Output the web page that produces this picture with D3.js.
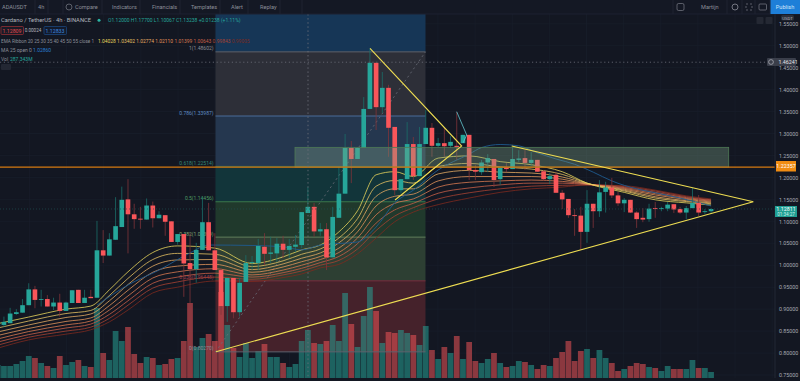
<!DOCTYPE html>
<html>
<head>
<meta charset="utf-8">
<script src="https://cdn.jsdelivr.net/npm/d3@7"></script>
<style>
  html, body { margin: 0; padding: 0; background: #131722; }
  svg { display: block; }
  text { font-family: Roboto, "Liberation Sans", sans-serif; }
</style>
</head>
<body>
<script>
let width = 800,
    height = 381;

// candles, one entry per 4h bar (first one is cut by the left edge)
let opens = [.862,.864,.868,.889,.892,.909,.945,.921,.923,.906,.915,.896,.914,.944,.914,.928,.926,1.034,1.022,1.058,1.087,1.150,1.116,1.106,1.104,1.136,1.107,1.114,1.100,1.053,1.071,1.005,.991,1.035,1.098,1.034,.989,.907,.971,.893,.962,1.005,1.005,1.042,1.026,1.027,1.049,1.035,1.042,1.046,1.119,1.133,1.077,1.082,1.018,1.108,1.163,1.267,1.242,1.267,1.356,1.461,1.360,1.404,1.315,1.171,1.196,1.276,1.203,1.276,1.313,1.272,1.278,1.272,1.272,1.278,1.297,1.217,1.212,1.234,1.242,1.196,1.224,1.219,1.240,1.244,1.233,1.240,1.214,1.196,1.206,1.165,1.151,1.114,1.113,1.076,1.140,1.123,1.167,1.177,1.159,1.141,1.149,1.120,1.108,1.105,1.130,1.128,1.129,1.139,1.128,1.120,1.130,1.142,1.121,1.123];
let highs = [.880,.883,.903,.900,.923,.959,.953,.944,.932,.926,.935,.917,.943,.944,.944,.944,1.101,1.080,1.073,1.155,1.179,1.196,1.140,1.133,1.152,1.145,1.123,1.114,1.100,1.071,1.071,1.073,1.051,1.156,1.142,1.073,.994,.971,.971,.971,1.023,1.021,1.060,1.073,1.065,1.062,1.067,1.060,1.069,1.121,1.178,1.142,1.096,1.096,1.133,1.224,1.299,1.283,1.269,1.383,1.493,1.461,1.440,1.411,1.315,1.196,1.326,1.292,1.315,1.354,1.324,1.290,1.313,1.294,1.349,1.297,1.297,1.228,1.240,1.253,1.242,1.224,1.233,1.269,1.262,1.262,1.258,1.240,1.217,1.210,1.212,1.171,1.151,1.128,1.133,1.171,1.140,1.194,1.190,1.199,1.167,1.153,1.149,1.123,1.130,1.140,1.144,1.133,1.144,1.139,1.133,1.135,1.176,1.160,1.128,1.130];
let lows = [.857,.859,.868,.887,.892,.909,.902,.906,.906,.898,.883,.896,.914,.914,.914,.925,.926,1.005,1.022,1.058,1.087,1.027,1.083,1.083,1.104,1.086,1.107,1.067,1.053,1.047,.928,.914,.960,1.035,1.034,.989,.887,.871,.879,.883,.962,.989,.989,1.000,1.005,1.007,1.016,1.016,1.030,1.039,1.119,1.065,1.067,.989,1.018,1.108,1.163,1.187,1.242,1.267,1.356,1.308,1.347,1.247,1.160,1.165,1.196,1.194,1.203,1.276,1.247,1.269,1.247,1.267,1.240,1.278,1.194,1.194,1.206,1.212,1.178,1.183,1.212,1.219,1.235,1.217,1.226,1.213,1.192,1.185,1.165,1.128,1.108,1.067,1.035,1.051,1.085,1.110,1.120,1.153,1.135,1.121,1.119,1.085,1.098,1.099,1.108,1.123,1.123,1.119,1.117,1.105,1.130,1.112,1.117,1.119];
let closes = [.871,.871,.890,.893,.909,.945,.921,.923,.906,.915,.896,.915,.943,.914,.926,.925,1.034,1.022,1.059,1.089,1.149,1.116,1.105,1.104,1.136,1.107,1.115,1.099,1.053,1.071,1.004,.991,1.035,1.098,1.034,.989,.907,.971,.893,.960,1.005,1.007,1.044,1.026,1.029,1.049,1.035,1.044,1.047,1.121,1.133,1.077,1.082,1.018,1.110,1.163,1.267,1.242,1.267,1.356,1.461,1.360,1.404,1.313,1.171,1.196,1.276,1.203,1.276,1.313,1.272,1.278,1.271,1.281,1.269,1.297,1.217,1.213,1.234,1.244,1.194,1.222,1.219,1.242,1.243,1.233,1.240,1.213,1.196,1.203,1.165,1.150,1.114,1.112,1.076,1.140,1.123,1.166,1.177,1.159,1.141,1.149,1.120,1.105,1.104,1.129,1.128,1.130,1.138,1.127,1.120,1.130,1.142,1.120,1.123,1.128];
let volumes = [650,600,600,700,850,1100,1000,750,600,500,1100,650,800,900,600,550,3500,1250,900,2350,1850,2550,1200,750,1050,1000,650,700,950,1000,1850,3750,1550,2000,2200,1850,4300,2650,1500,1050,1750,1000,1350,1700,1050,1050,750,550,700,1850,2400,1750,1700,1850,2650,1850,4250,2700,1550,3100,4550,3350,1750,2300,2250,2400,2250,2150,1650,2600,1400,950,1550,1250,2100,950,1800,850,750,950,1250,750,550,600,850,800,650,450,650,600,1000,1300,1850,850,1350,1450,1000,1400,1000,750,350,450,600,750,700,550,500,350,600,450,450,450,900,500,500,300];

let ribbonBars = [-1,4,10,14,17,20,24,28,34,40,45,48,51,54,57,60,63,66,70,75,80,85,90,94,100,105,110,114];
let ema20 = [.867,.882,.900,.907,.944,.985,1.029,1.044,1.039,1.004,1.019,1.035,1.046,1.076,1.124,1.206,1.213,1.202,1.244,1.249,1.236,1.229,1.213,1.187,1.166,1.149,1.142,1.137];
let ema25 = [.857,.873,.890,.897,.931,.970,1.013,1.027,1.025,.997,1.010,1.025,1.037,1.062,1.106,1.180,1.193,1.187,1.225,1.232,1.224,1.219,1.207,1.187,1.169,1.153,1.145,1.140];
let ema30 = [.848,.864,.881,.889,.919,.956,.998,1.012,1.013,.990,1.003,1.016,1.028,1.051,1.090,1.157,1.174,1.174,1.208,1.216,1.212,1.210,1.201,1.186,1.171,1.156,1.147,1.142];
let ema35 = [.840,.856,.872,.880,.908,.943,.984,.998,1.002,.984,.996,1.008,1.020,1.039,1.076,1.135,1.157,1.162,1.192,1.202,1.202,1.202,1.196,1.185,1.173,1.160,1.150,1.144];
let ema40 = [.832,.849,.864,.873,.898,.930,.971,.985,.992,.978,.989,1.000,1.013,1.029,1.062,1.115,1.141,1.151,1.178,1.189,1.192,1.194,1.191,1.185,1.175,1.163,1.152,1.146];
let ema45 = [.825,.842,.857,.866,.888,.919,.959,.973,.982,.973,.983,.993,1.006,1.020,1.049,1.096,1.126,1.141,1.164,1.176,1.183,1.187,1.187,1.184,1.177,1.166,1.154,1.148];
let ema50 = [.818,.836,.850,.859,.879,.909,.948,.962,.973,.968,.978,.987,1.000,1.011,1.037,1.079,1.112,1.131,1.151,1.165,1.174,1.180,1.182,1.183,1.179,1.169,1.156,1.149];
let ema55 = [.811,.830,.843,.853,.871,.898,.937,.950,.964,.963,.972,.980,.994,1.002,1.026,1.062,1.099,1.121,1.138,1.153,1.166,1.174,1.178,1.183,1.181,1.171,1.158,1.151];
let ribbon = [ema20, ema25, ema30, ema35, ema40, ema45, ema50, ema55];
let ribbonColors = ["#e8d65c", "#e6c262", "#e5ab62", "#e2945a", "#d97a50", "#c96048", "#a84232", "#7e2a1e"];
let emaLast = ["1.04028", "1.03402", "1.02774", "1.02110", "1.01399", "1.00643", "0.99843", "0.99005"];

let maBars = [15,20,25,30,33,40,45,48,51,57,60,63,66,70,75,77,80,83,86,89,92,95,98,102,105,109,114];
let maValues = [.909,.955,.989,1.028,1.046,1.045,1.042,1.035,1.046,1.053,1.087,1.142,1.171,1.217,1.253,1.268,1.275,1.272,1.256,1.242,1.230,1.212,1.192,1.174,1.165,1.153,1.135];

// fib retracement levels, top to bottom
let fibLevels = [2, 1.486, 1.33987, 1.22514, 1.14456, 1.06399, .96448, .8027];
let fibLabels = ["", "1(1.48602)", "0.786(1.33987)", "0.618(1.22514)", "0.5(1.14456)", "0.382(1.06399)", "0.236(0.96448)", "0(0.80270)"];
let fibFills = ["#163656", "#2d2f38", "#25374f", "#12353a", "#20392c", "#2d3f33", "#45222b"];
let fibLines = ["#163656", "#5f626c", "#4a6c99", "#2a6b5a", "#3b7a4c", "#62805c", "#7a3040", "#5f626c"];

let priceTicks = [.75,.8,.85,.9,.95,1,1.05,1.1,1.15,1.2,1.25,1.3,1.35,1.4,1.45,1.5,1.55];
let timeGrid = [-2,4,10,16,22,28,34,40,46,52,58,64,70,76,82,88,94,100,106,112,118,124];

let toolbarTexts = [["ADAUSDT", 2], ["4h", 38], ["Compare", 75], ["Indicators", 112], ["Financials", 152], ["Templates", 191], ["Alert", 231], ["Replay", 260]];
let toolbarSeps = [35, 48, 63, 102, 140, 180, 220, 248, 280, 302, 673, 727, 742, 755, 770];

let svg = d3.select("body")
            .append("svg")
            .attr("width", width)
            .attr("height", height);

let xScale = d3.scaleBand()
               .domain(d3.range(-1, 115))
               .range([-4.6, 713.4])
               .paddingInner(0.25);

let xMid = function(i) { return xScale(i) + xScale.bandwidth() / 2; };
let xTime = d3.scaleLinear().domain([-1, 114]).range([-1.5, 710.3]);

let yScale = d3.scaleLinear()
               .domain([.75, 1.5])
               .range([375, 45.7]);

let volScale = d3.scaleLinear()
                 .domain([0, 5000])
                 .range([378, 278]);

let green = "#26a69a",
    red = "#f9565a";

svg.append("rect").attr("width", width).attr("height", height).attr("fill", "#131722");

svg.append("clipPath").attr("id", "plot")
   .append("rect").attr("x", 0).attr("y", 14).attr("width", 775).attr("height", 364);

let plot = svg.append("g").attr("clip-path", "url(#plot)");

// grid
plot.selectAll(".hgrid")
    .data(priceTicks)
    .enter()
    .append("line")
    .attr("x1", 0).attr("x2", 775)
    .attr("y1", d => yScale(d)).attr("y2", d => yScale(d))
    .attr("stroke", "#191e2b").attr("stroke-width", 0.7);

plot.selectAll(".vgrid")
    .data(timeGrid)
    .enter()
    .append("line")
    .attr("x1", d => xTime(d)).attr("x2", d => xTime(d))
    .attr("y1", 14).attr("y2", 378)
    .attr("stroke", "#191e2b").attr("stroke-width", 0.7);

// fib zones
plot.selectAll(".zone")
    .data(fibFills)
    .enter()
    .append("rect")
    .attr("x", 215.5)
    .attr("width", 210)
    .attr("y", (d, i) => yScale(fibLevels[i]))
    .attr("height", (d, i) => yScale(fibLevels[i + 1]) - yScale(fibLevels[i]))
    .attr("fill", d => d);

// volume
plot.selectAll(".vol")
    .data(volumes)
    .enter()
    .append("rect")
    .attr("x", (d, i) => xScale(i - 1) - 0.55)
    .attr("width", xScale.bandwidth() + 1.1)
    .attr("y", d => volScale(d))
    .attr("height", d => volScale(0) - volScale(d))
    .attr("fill", (d, i) => closes[i] >= opens[i] ? green : red)
    .attr("fill-opacity", 0.52);

plot.selectAll(".level")
    .data(fibLevels.slice(1))
    .enter()
    .append("line")
    .attr("x1", 215.5).attr("x2", 425.5)
    .attr("y1", d => yScale(d)).attr("y2", d => yScale(d))
    .attr("stroke", (d, i) => fibLines[i + 1]);

plot.append("line")
    .attr("x1", 215.5).attr("y1", yScale(fibLevels[7]))
    .attr("x2", 425.5).attr("y2", yScale(fibLevels[1]))
    .attr("stroke", "#6a6d78").attr("stroke-width", 0.8).attr("stroke-dasharray", "2,3");

plot.selectAll(".fibText")
    .data(fibLabels)
    .enter()
    .append("text")
    .attr("x", 213.5)
    .attr("y", (d, i) => yScale(fibLevels[i]) - 1.5)
    .attr("text-anchor", "end")
    .attr("font-size", 5)
    .attr("fill", (d, i) => fibLines[i] === "#5f626c" ? "#8a8d96" : d3.color(fibLines[i]).brighter(0.7))
    .text(d => d);

// ribbon under the candles
let ribbonLine = d3.line()
                   .x((d, i) => xMid(ribbonBars[i]))
                   .y(d => yScale(d))
                   .curve(d3.curveMonotoneX);

plot.selectAll(".ema")
    .data(ribbon.slice().reverse())
    .enter()
    .append("path")
    .attr("d", ribbonLine)
    .attr("fill", "none")
    .attr("stroke", (d, i) => ribbonColors[7 - i])
    .attr("stroke-width", 0.8);

let maLine = d3.line()
               .x((d, i) => xMid(maBars[i]))
               .y(d => yScale(d))
               .curve(d3.curveMonotoneX);

plot.append("path")
    .attr("d", maLine(maValues))
    .attr("fill", "none")
    .attr("stroke", "#1e5a8e")
    .attr("stroke-width", 0.9);

// candles
plot.selectAll(".wick")
    .data(opens)
    .enter()
    .append("line")
    .attr("x1", (d, i) => xMid(i - 1)).attr("x2", (d, i) => xMid(i - 1))
    .attr("y1", (d, i) => yScale(highs[i]))
    .attr("y2", (d, i) => yScale(lows[i]))
    .attr("stroke", (d, i) => closes[i] >= d ? "#1b6f69" : "#80343a")
    .attr("stroke-width", 0.8);

plot.selectAll(".body")
    .data(opens)
    .enter()
    .append("rect")
    .attr("x", (d, i) => xScale(i - 1))
    .attr("width", xScale.bandwidth())
    .attr("y", (d, i) => yScale(Math.max(d, closes[i])))
    .attr("height", (d, i) => Math.max(0.8, Math.abs(yScale(d) - yScale(closes[i]))))
    .attr("fill", (d, i) => closes[i] >= d ? green : red);

// drawings on top
plot.append("rect")
    .attr("x", 295).attr("y", yScale(1.2685))
    .attr("width", 433.7).attr("height", yScale(1.2235) - yScale(1.2685))
    .attr("fill", "#7fa488").attr("fill-opacity", 0.35)
    .attr("stroke", "#4f7a55").attr("stroke-width", 0.8);

plot.append("line")
    .attr("x1", 0).attr("x2", 775)
    .attr("y1", yScale(1.2235)).attr("y2", yScale(1.2235))
    .attr("stroke", "#d67a10").attr("stroke-width", 1.1);

plot.append("line")
    .attr("x1", 0).attr("x2", 767)
    .attr("y1", yScale(1.46241)).attr("y2", yScale(1.46241))
    .attr("stroke", "#6e717b").attr("stroke-width", 0.8).attr("stroke-dasharray", "1.2,2.6");

plot.append("line")
    .attr("x1", 0).attr("x2", 775)
    .attr("y1", yScale(1.12811)).attr("y2", yScale(1.12811))
    .attr("stroke", "#1f4f52").attr("stroke-width", 0.7).attr("stroke-dasharray", "1,2");

plot.append("line")
    .attr("x1", 308).attr("x2", 308)
    .attr("y1", 14).attr("y2", 378)
    .attr("stroke", "#6d707a").attr("stroke-width", 0.8).attr("stroke-dasharray", "1.5,2.6");

let trendPaths = [
  [[370, 48.3], [461.7, 146], [395, 200]],
  [[216, 351.7], [753.3, 201.7], [511.7, 146]]
];

plot.selectAll(".trend")
    .data(trendPaths)
    .enter()
    .append("path")
    .attr("d", d3.line())
    .attr("fill", "none")
    .attr("stroke", "#eedd52")
    .attr("stroke-width", 1.1);

plot.append("path")
    .attr("d", d3.line()([[456.7, 111.7], [466.7, 135], [463, 143]]))
    .attr("fill", "none")
    .attr("stroke", "#63c7cf")
    .attr("stroke-width", 0.8);

// price axis
svg.append("line")
   .attr("x1", 775).attr("x2", 775).attr("y1", 14).attr("y2", 378)
   .attr("stroke", "#232835");

let yAxis = d3.axisRight(yScale)
              .tickValues(priceTicks)
              .tickSize(0)
              .tickPadding(0)
              .tickFormat(d3.format(".5f"));

svg.append("g")
   .attr("transform", "translate(779,0)")
   .call(yAxis)
   .call(g => g.select(".domain").remove())
   .call(g => g.selectAll("text").attr("font-size", 5.3).attr("fill", "#a8abb4"));

// price tags
svg.append("rect").attr("x", 776).attr("y", 161).attr("width", 20).attr("height", 10.5).attr("fill", "#f08c12");
svg.append("text").attr("x", 786).attr("y", 168.3).attr("text-anchor", "middle").attr("font-size", 5.3).attr("fill", "#fff").text("1.22357");
svg.append("rect").attr("x", 775).attr("y", 206).attr("width", 22).attr("height", 11).attr("fill", "#1f9e92");
svg.append("text").attr("x", 786).attr("y", 211).attr("text-anchor", "middle").attr("font-size", 5.3).attr("fill", "#fff").text("1.12811");
svg.append("text").attr("x", 786).attr("y", 216).attr("text-anchor", "middle").attr("font-size", 4.6).attr("fill", "#c9f0ea").text("01:34:27");
svg.append("rect").attr("x", 767).attr("y", 58).attr("width", 29).attr("height", 8).attr("rx", 1).attr("fill", "#3a3e4a");
svg.append("circle").attr("cx", 771).attr("cy", 62).attr("r", 2.4).attr("fill", "none").attr("stroke", "#c8cad0").attr("stroke-width", 0.6);
svg.append("text").attr("x", 778.5).attr("y", 64).attr("font-size", 5.3).attr("fill", "#e4e5e8").text("1.46241");
svg.append("rect").attr("x", 781).attr("y", 15).attr("width", 13).attr("height", 5.6).attr("rx", 1.5).attr("fill", "#2a2e39");
svg.append("text").attr("x", 787.5).attr("y", 19.5).attr("text-anchor", "middle").attr("font-size", 4.3).attr("fill", "#b2b5be").text("USDT");
svg.append("rect").attr("x", 756.5).attr("y", 17).attr("width", 7).attr("height", 7).attr("rx", 1).attr("fill", "#242833");
svg.append("rect").attr("x", 765.5).attr("y", 17).attr("width", 7).attr("height", 7).attr("rx", 1).attr("fill", "#242833");

// toolbar
svg.append("rect").attr("width", width).attr("height", 14).attr("fill", "#141824");
svg.append("line").attr("x1", 0).attr("x2", width).attr("y1", 14).attr("y2", 14).attr("stroke", "#1c2130");

svg.selectAll(".sep")
   .data(toolbarSeps)
   .enter()
   .append("line")
   .attr("x1", d => d).attr("x2", d => d)
   .attr("y1", 0).attr("y2", 14)
   .attr("stroke", "#1e2330");

svg.selectAll(".tool")
   .data(toolbarTexts)
   .enter()
   .append("text")
   .attr("x", d => d[1])
   .attr("y", 9)
   .attr("font-size", 5.6)
   .attr("fill", "#8b8e98")
   .text(d => d[0]);

svg.append("circle").attr("cx", 69).attr("cy", 7).attr("r", 3).attr("fill", "none").attr("stroke", "#8b8e98").attr("stroke-width", 0.6);
svg.append("rect").attr("x", 677).attr("y", 3.5).attr("width", 7).attr("height", 7).attr("rx", 1.5).attr("fill", "none").attr("stroke", "#8b8e98").attr("stroke-width", 0.6);
svg.append("text").attr("x", 701).attr("y", 9).attr("font-size", 5.6).attr("fill", "#8b8e98").text("Martijn");
svg.append("circle").attr("cx", 735).attr("cy", 7).attr("r", 3).attr("fill", "none").attr("stroke", "#8b8e98").attr("stroke-width", 0.8);
svg.append("rect").attr("x", 746).attr("y", 4).attr("width", 6).attr("height", 6).attr("fill", "none").attr("stroke", "#8b8e98").attr("stroke-width", 0.6).attr("stroke-dasharray", "2,2");
svg.append("rect").attr("x", 759).attr("y", 4).attr("width", 7.5).attr("height", 6).attr("rx", 1).attr("fill", "none").attr("stroke", "#8b8e98").attr("stroke-width", 0.6);
svg.append("rect").attr("x", 770.5).attr("y", 0).attr("width", 29.5).attr("height", 14).attr("fill", "#1e7fd8");
svg.append("text").attr("x", 785).attr("y", 9).attr("text-anchor", "middle").attr("font-size", 5.6).attr("fill", "#cfe6fb").text("Publish");

// legend rows
let legend = svg.append("g");
legend.append("text").attr("x", 1).attr("y", 22.3).attr("font-size", 5.8).attr("fill", "#b2b5be").text("Cardano / TetherUS \u00b7 4h \u00b7 BINANCE");
legend.append("circle").attr("cx", 99).attr("cy", 20.3).attr("r", 1.5).attr("fill", "#2bb5a4");
legend.append("text").attr("x", 108).attr("y", 22.3).attr("font-size", 5).attr("fill", "#26a69a").text("O1.12000 H1.17700 L1.10067 C1.13238 +0.01238 (+1.11%)");

legend.append("rect").attr("x", 1).attr("y", 26.5).attr("width", 22.5).attr("height", 8).attr("rx", 1).attr("fill", "#1a1b26").attr("stroke", "#a33238").attr("stroke-width", 0.7);
legend.append("text").attr("x", 12).attr("y", 32.5).attr("text-anchor", "middle").attr("font-size", 5.2).attr("fill", "#e2494e").text("1.12809");
legend.append("text").attr("x", 33).attr("y", 32.3).attr("text-anchor", "middle").attr("font-size", 4.6).attr("fill", "#b2b5be").text("0.00024");
legend.append("rect").attr("x", 44).attr("y", 26.5).attr("width", 22.5).attr("height", 8).attr("rx", 1).attr("fill", "#131b2c").attr("stroke", "#1d4e8a").attr("stroke-width", 0.7);
legend.append("text").attr("x", 55).attr("y", 32.5).attr("text-anchor", "middle").attr("font-size", 5.2).attr("fill", "#3d8be0").text("1.12833");

legend.append("text").attr("x", 1).attr("y", 42.5).attr("font-size", 4.7).attr("fill", "#8b8e98").text("EMA Ribbon 20 25 30 35 40 45 50 55 close 1");
legend.selectAll(".emaVal")
      .data(emaLast)
      .enter()
      .append("text")
      .attr("x", (d, i) => 98 + i * 19.1)
      .attr("y", 42.5)
      .attr("font-size", 4.9)
      .attr("fill", (d, i) => ribbonColors[i])
      .text(d => d);

legend.append("text").attr("x", 1).attr("y", 51.5).attr("font-size", 5).attr("fill", "#8b8e98").text("MA 25 open 0");
legend.append("text").attr("x", 33).attr("y", 51.5).attr("font-size", 5).attr("fill", "#2a7fd0").text("1.02860");
legend.append("text").attr("x", 1).attr("y", 60.5).attr("font-size", 5).attr("fill", "#8b8e98").text("Vol");
legend.append("text").attr("x", 10).attr("y", 60.5).attr("font-size", 5).attr("fill", "#26a69a").text("287.343M");
legend.append("rect").attr("x", 1).attr("y", 64).attr("width", 10).attr("height", 6).attr("rx", 1).attr("fill", "#232733");
</script>
</body>
</html>
